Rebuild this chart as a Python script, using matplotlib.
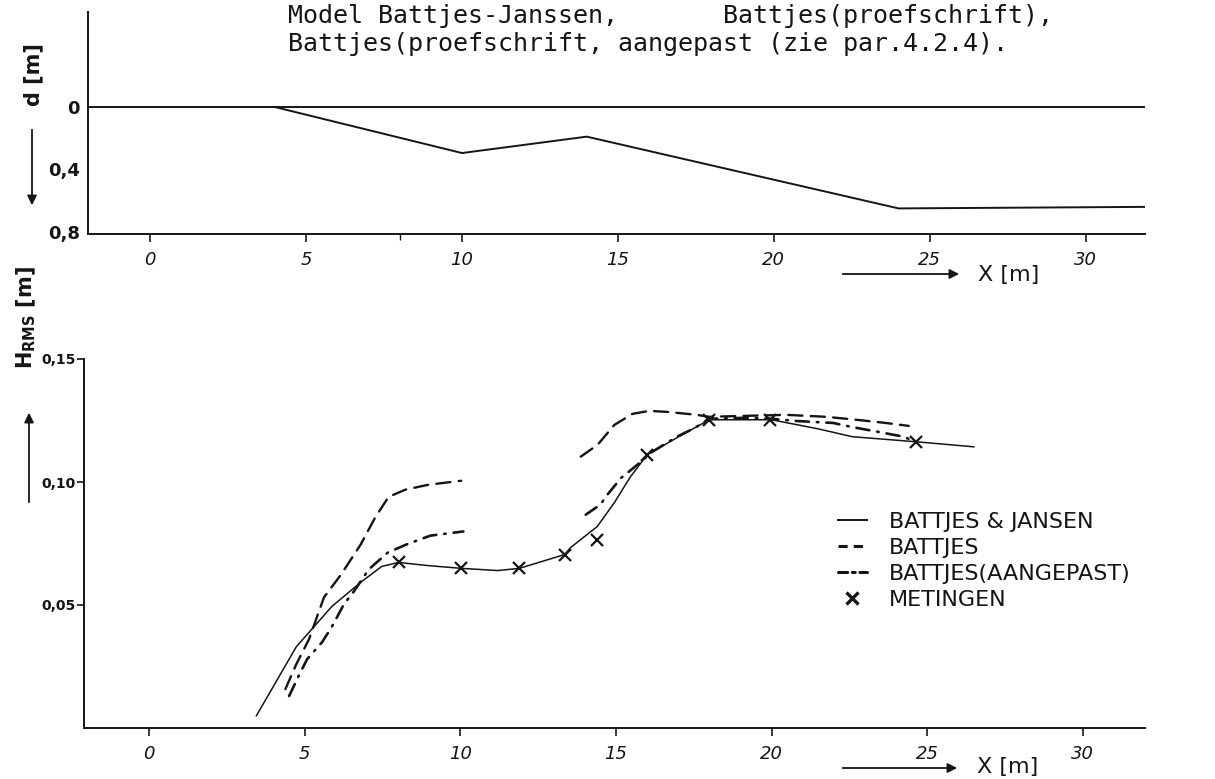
import numpy as np
import matplotlib
matplotlib.use("Agg")
import matplotlib.pyplot as plt
from matplotlib.lines import Line2D
from matplotlib.patches import FancyArrowPatch

# ---------------- data ----------------
# top panel: bottom profile d [m] versus x [m]
surface_d = 0.0
profile_x = [4, 10, 14, 24, 32]
profile_d = [0.0, 0.295, 0.19, 0.65, 0.64]
top_yticks = [0.0, 0.4, 0.8]
top_yticklabels = ["0", "0,4", "0,8"]

# bottom panel: H_RMS [m] versus x [m]
bj_x = [3.45, 4.73, 5.88, 6.84, 7.48, 8.02, 8.98, 10.03, 11.2, 11.9, 13.35, 13.55,
        14.4, 14.95, 15.46, 16.0, 16.96, 18.0, 20.0, 21.5, 22.6, 24.7, 26.5]
bj_y = [0.005, 0.033, 0.0495, 0.0596, 0.0657, 0.0673, 0.066, 0.0649, 0.064, 0.0649,
        0.0705, 0.0734, 0.0819, 0.0916, 0.102, 0.111, 0.118, 0.1253, 0.1253, 0.1216,
        0.1184, 0.1163, 0.1143]

battjes_x = [4.38, 4.73, 5.14, 5.62, 6.17, 6.8, 7.28, 7.7, 8.24, 8.98, 10.03, np.nan,
             13.87, 14.41, 14.95, 15.53, 16.07, 16.65, 17.6, 17.99, 19.2, 20.48, 21.76,
             22.72, 23.67, 24.41]
battjes_y = [0.0158, 0.0259, 0.0361, 0.0531, 0.0624, 0.0746, 0.0859, 0.094, 0.0969,
             0.0989, 0.1005, np.nan,
             0.1103, 0.1151, 0.1232, 0.1277, 0.1289, 0.1285, 0.1273, 0.1265, 0.1269,
             0.1273, 0.1265, 0.1253, 0.124, 0.1228]

aang_x = [4.5, 4.82, 5.08, 5.56, 5.88, 6.26, 6.58, 7.06, 7.67, 8.27, 9.04, 10.1, np.nan,
          14.03, 14.5, 14.73, 15.17, 15.69, 16.17, 16.96, 17.54, 17.99, 19.2, 20.0, 20.8,
          21.98, 22.56, 23.42, 24.25, 24.63]
aang_y = [0.013, 0.0215, 0.028, 0.0349, 0.0413, 0.0503, 0.0555, 0.0645, 0.0713, 0.0746,
          0.0782, 0.0799, np.nan,
          0.0867, 0.0908, 0.0949, 0.1017, 0.107, 0.1123, 0.1184, 0.122, 0.1257, 0.1261,
          0.1257, 0.1248, 0.124, 0.1224, 0.1204, 0.1184, 0.1163]

meas_x = [8.02, 10.03, 11.9, 13.35, 14.4, 16.0, 18.0, 19.94, 24.63]
meas_y = [0.0673, 0.0649, 0.0649, 0.0705, 0.0766, 0.111, 0.1253, 0.1253, 0.1163]

x_ticks = [0, 5, 10, 15, 20, 25, 30]
bot_yticks = [0.05, 0.10, 0.15]
bot_yticklabels = ["0,05", "0,10", "0,15"]

legend_labels = ["BATTJES & JANSEN", "BATTJES", "BATTJES(AANGEPAST)", "METINGEN"]
title_line1 = "Model Battjes-Janssen,       Battjes(proefschrift),"
title_line2 = "Battjes(proefschrift, aangepast (zie par.4.2.4)."

# ---------------- figure ----------------
W, H = 1215, 779
ink = "#151515"
fig = plt.figure(figsize=(W / 100, H / 100), dpi=100)
fig.patch.set_facecolor("white")


def fx(px):
    return px / W


def fy(py):
    return 1 - py / H


# top axes
ax1 = fig.add_axes([fx(88), fy(234), fx(1145) - fx(88), fy(12) - fy(234)])
# bottom axes
ax2 = fig.add_axes([fx(84), fy(728), fx(1145) - fx(84), fy(359) - fy(728)])

for ax in (ax1, ax2):
    ax.set_facecolor("white")
    for s in ("top", "right"):
        ax.spines[s].set_visible(False)
    for s in ("left", "bottom"):
        ax.spines[s].set_color(ink)
        ax.spines[s].set_linewidth(1.4)
    ax.set_xticks(x_ticks)
    ax.set_xticklabels([str(t) for t in x_ticks], fontsize=13, color=ink,
                       style="italic")
    ax.tick_params(axis="x", direction="out", length=6, width=1.2, color=ink, pad=6)

# ---- top panel ----
ax1.set_xlim(-1.99, 31.9)
ax1.set_ylim(0.814, -0.609)
ax1.axhline(surface_d, color=ink, lw=1.4)
ax1.plot(profile_x, profile_d, color=ink, lw=1.4)
ax1.set_yticks(top_yticks)
ax1.set_yticklabels(top_yticklabels, fontsize=13, fontweight="bold", color=ink)
ax1.tick_params(axis="y", length=0, pad=6)
ax1.set_xticks([8], minor=True)
ax1.tick_params(axis="x", which="minor", direction="out", length=4, width=1.0, color=ink)

# ---- bottom panel ----
ax2.set_xlim(-2.09, 32.0)
ax2.set_ylim(0, 0.15)
ax2.plot(bj_x, bj_y, color=ink, lw=1.1, label=legend_labels[0])
ax2.plot(battjes_x, battjes_y, color=ink, lw=1.7, linestyle=(0, (6, 3.5)),
         dash_capstyle="round", label=legend_labels[1])
ax2.plot(aang_x, aang_y, color=ink, lw=1.9, linestyle=(0, (5, 3, 0.6, 3)),
         dash_capstyle="round", label=legend_labels[2])
ax2.plot(meas_x, meas_y, linestyle="none", marker="x", ms=8, mew=1.6, color=ink,
         label=legend_labels[3])
ax2.set_yticks(bot_yticks)
ax2.set_yticklabels(bot_yticklabels, fontsize=10, fontweight="bold", color=ink)
ax2.tick_params(axis="y", direction="out", length=5, width=1.2, color=ink, pad=1)

handles = [
    Line2D([], [], color=ink, lw=1.4),
    Line2D([], [], color=ink, lw=2.2, linestyle=(0, (3, 2))),
    Line2D([], [], color=ink, lw=2.2, linestyle=(0, (3, 1.5, 1, 1.5)),
           dash_capstyle="round"),
    Line2D([], [], color=ink, linestyle="none", marker="x", ms=8, mew=2.4),
]
leg = ax2.legend(handles, legend_labels, loc="upper left",
                 bbox_to_anchor=(fx(838), fy(512)), bbox_transform=fig.transFigure,
                 frameon=False, fontsize=16, handlelength=1.3, handletextpad=1.0,
                 labelspacing=0.27, borderpad=0, borderaxespad=0)
for t in leg.get_texts():
    t.set_color(ink)

# ---- axis labels with arrows ----
fig.text(fx(33), fy(75), "d [m]", rotation=90, ha="center", va="center",
         fontsize=15, fontweight="bold", color=ink)
fig.text(fx(26), fy(318), r"H$_{\mathbf{RMS}}$ [m]", rotation=90, ha="center",
         va="center", fontsize=15, fontweight="bold", color=ink)

arrow_kw = dict(arrowstyle="-|>", lw=1.3, color=ink, mutation_scale=14)
for (x0, y0), (x1, y1) in [((32, 127), (32, 208)), ((29, 505), (29, 410)),
                           ((840, 274), (962, 274)), ((840, 768), (960, 768))]:
    fig.add_artist(FancyArrowPatch((fx(x0), fy(y0)), (fx(x1), fy(y1)),
                                   transform=fig.transFigure, **arrow_kw))
fig.text(fx(978), fy(275), "X [m]", ha="left", va="center", fontsize=16, color=ink)
fig.text(fx(977), fy(767), "X [m]", ha="left", va="center", fontsize=16, color=ink)

# ---- typed caption ----
fig.text(fx(288), fy(16), title_line1, ha="left", va="center", fontsize=18,
         family="DejaVu Sans Mono", color=ink)
fig.text(fx(288), fy(44), title_line2, ha="left", va="center", fontsize=18,
         family="DejaVu Sans Mono", color=ink)

fig.savefig("out.png", dpi=100, facecolor="white")
